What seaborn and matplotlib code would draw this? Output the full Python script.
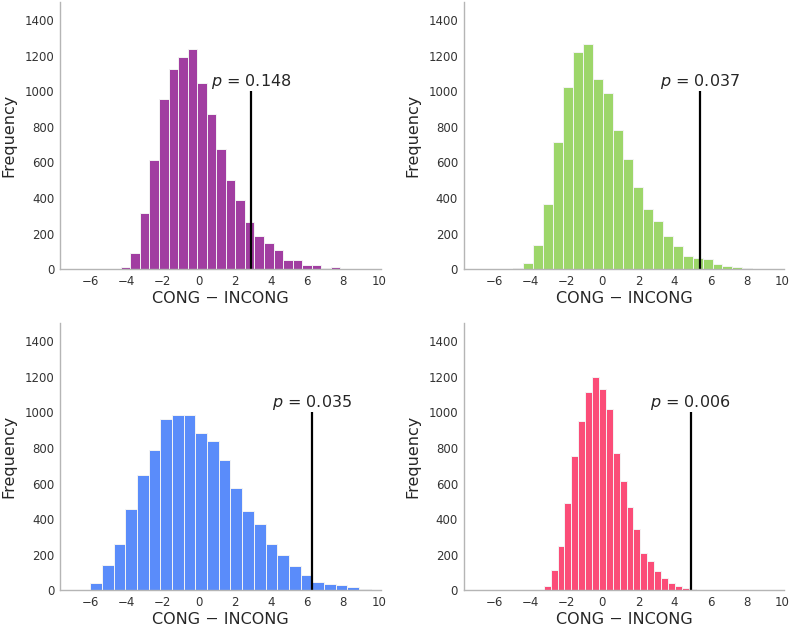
import numpy as np
import matplotlib
matplotlib.use("Agg")
import matplotlib.pyplot as plt
import seaborn as sns

# histogram counts, one list per panel
counts_purple = [15, 90, 315, 612, 955, 1123, 1190, 1237, 1044, 874, 677, 502,
                 391, 264, 185, 150, 109, 51, 51, 24, 22, 9, 13]
counts_green = [6, 36, 139, 367, 715, 1022, 1218, 1267, 1067, 988, 782, 620,
                464, 341, 272, 187, 131, 75, 62, 58, 30, 17, 11, 6]
counts_blue = [43, 141, 263, 456, 649, 790, 961, 987, 983, 882, 837, 732,
               574, 443, 372, 261, 199, 139, 88, 47, 38, 28, 17, 8]
counts_pink = [4, 24, 116, 248, 492, 756, 953, 1114, 1201, 1129, 1017, 769,
               615, 469, 347, 212, 163, 107, 71, 41, 24, 13, 8, 4]

# histogram ranges (first bin edge, last bin edge)
ranges = [(-4.33, 7.84), (-4.96, 8.33), (-6.03, 9.52), (-3.635, 5.56)]

# observed difference and p value per panel
observed = [2.91, 5.44, 6.28, 4.90]
p_values = ["0.148", "0.037", "0.035", "0.006"]

colors = ["#a13ea1", "#9dd66a", "#5a8cfa", "#fb4d78"]
all_counts = [counts_purple, counts_green, counts_blue, counts_pink]

sns.set_style("white")
plt.rcParams["font.family"] = ["DejaVu Sans"]

fig = plt.figure(figsize=(7.93, 6.29), dpi=100)
positions = [
    [0.0757, 0.5719, 0.405, 0.4245],
    [0.5847, 0.5719, 0.4043, 0.4245],
    [0.0757, 0.0615, 0.405, 0.4245],
    [0.5847, 0.0615, 0.4043, 0.4245],
]

for pos, counts, (lo, hi), obs, pv, col in zip(positions, all_counts, ranges,
                                                observed, p_values, colors):
    ax = fig.add_axes(pos)
    n = len(counts)
    width = (hi - lo) / n
    centers = lo + width * (np.arange(n) + 0.5)
    sns.histplot(x=centers, weights=counts, bins=n, binrange=(lo, hi),
                 color=col, alpha=1.0, edgecolor="#f4f4f4", linewidth=0.7, ax=ax)
    ax.vlines(obs, 0, 1000, color="black", linewidth=1.6)
    ax.text(obs, 1000, f"$p$ = {pv}", ha="center", va="bottom",
            fontsize=11.5, color=".15")
    ax.set_xlim(-7.7, 10.1)
    ax.set_ylim(0, 1500)
    ax.set_xticks(range(-6, 11, 2))
    ax.set_yticks(range(0, 1401, 200))
    ax.set_xticklabels([str(t).replace("-", "\u2212") for t in range(-6, 11, 2)])
    ax.tick_params(labelsize=8.5, labelcolor="#333333", length=0, pad=4)
    ax.set_xlabel("CONG \u2212 INCONG", fontsize=11.5, color=".15", labelpad=2)
    ax.set_ylabel("Frequency", fontsize=11.5, color=".15", labelpad=6)
    sns.despine(ax=ax)
    for s in ["left", "bottom"]:
        ax.spines[s].set_color("#b5b5b5")
        ax.spines[s].set_linewidth(1.0)

fig.savefig("out.png", dpi=100)
